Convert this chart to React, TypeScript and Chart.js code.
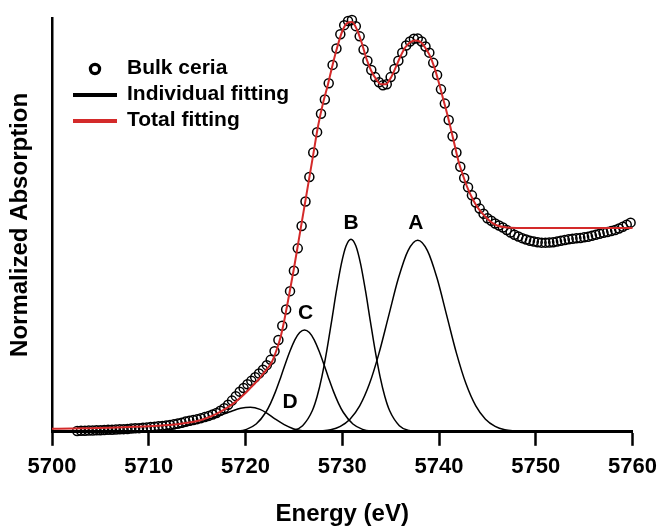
import React, { useEffect, useRef } from 'react';
import { Chart, registerables } from 'chart.js';

Chart.register(...registerables);

const FONT = "'Liberation Sans', Arial, Helvetica, sans-serif";

const xTicks = [5700, 5710, 5720, 5730, 5740, 5750, 5760];

// Experimental data: Bulk ceria (circles)
const bulkEnergy = [
  5702.6, 5703.0, 5703.4, 5703.8, 5704.2, 5704.6, 5705.0, 5705.4, 5705.8, 5706.2,
  5706.6, 5707.0, 5707.4, 5707.8, 5708.2, 5708.6, 5709.0, 5709.4, 5709.8, 5710.2,
  5710.6, 5711.0, 5711.4, 5711.8, 5712.2, 5712.6, 5713.0, 5713.4, 5713.8, 5714.2,
  5714.6, 5715.0, 5715.4, 5715.8, 5716.2, 5716.6, 5717.0, 5717.4, 5717.8, 5718.2,
  5718.6, 5719.0, 5719.4, 5719.8, 5720.2, 5720.6, 5721.0, 5721.4, 5721.8, 5722.2,
  5722.6, 5723.0, 5723.4, 5723.8, 5724.2, 5724.6, 5725.0, 5725.4, 5725.8, 5726.2,
  5726.6, 5727.0, 5727.4, 5727.8, 5728.2, 5728.6, 5729.0, 5729.4, 5729.8, 5730.2,
  5730.6, 5731.0, 5731.4, 5731.8, 5732.2, 5732.6, 5733.0, 5733.4, 5733.8, 5734.2,
  5734.6, 5735.0, 5735.4, 5735.8, 5736.2, 5736.6, 5737.0, 5737.4, 5737.8, 5738.2,
  5738.6, 5739.0, 5739.4, 5739.8, 5740.2, 5740.6, 5741.0, 5741.4, 5741.8, 5742.2,
  5742.6, 5743.0, 5743.4, 5743.8, 5744.2, 5744.6, 5745.0, 5745.4, 5745.8, 5746.2,
  5746.6, 5747.0, 5747.4, 5747.8, 5748.2, 5748.6, 5749.0, 5749.4, 5749.8, 5750.2,
  5750.6, 5751.0, 5751.4, 5751.8, 5752.2, 5752.6, 5753.0, 5753.4, 5753.8, 5754.2,
  5754.6, 5755.0, 5755.4, 5755.8, 5756.2, 5756.6, 5757.0, 5757.4, 5757.8, 5758.2,
  5758.6, 5759.0, 5759.4, 5759.8,
];
const bulkAbs = [
  0.004, 0.005, 0.005, 0.006, 0.006, 0.007, 0.008, 0.009, 0.010, 0.010,
  0.011, 0.012, 0.013, 0.014, 0.016, 0.017, 0.018, 0.020, 0.021, 0.023,
  0.025, 0.027, 0.029, 0.031, 0.033, 0.037, 0.041, 0.045, 0.050, 0.054,
  0.058, 0.062, 0.067, 0.072, 0.078, 0.085, 0.092, 0.103, 0.116, 0.133,
  0.153, 0.175, 0.197, 0.215, 0.233, 0.250, 0.268, 0.286, 0.305, 0.327,
  0.353, 0.395, 0.45, 0.52, 0.60, 0.69, 0.79, 0.90, 1.01, 1.13,
  1.25, 1.37, 1.47, 1.56, 1.63, 1.71, 1.80, 1.88, 1.95, 1.995,
  2.015, 2.02, 1.99, 1.94, 1.875, 1.82, 1.775, 1.74, 1.715, 1.70,
  1.705, 1.74, 1.78, 1.82, 1.86, 1.895, 1.915, 1.928, 1.93, 1.915,
  1.89, 1.86, 1.81, 1.75, 1.68, 1.61, 1.53, 1.45, 1.37, 1.30,
  1.245, 1.20, 1.16, 1.125, 1.095, 1.07, 1.048, 1.035, 1.022, 1.012,
  1.002, 0.99, 0.978, 0.967, 0.958, 0.95, 0.943, 0.937, 0.933, 0.93,
  0.928, 0.928, 0.929, 0.93, 0.933, 0.937, 0.941, 0.945, 0.947, 0.949,
  0.951, 0.954, 0.957, 0.962, 0.967, 0.972, 0.976, 0.980, 0.985, 0.99,
  0.997, 1.006, 1.016, 1.026,
];

// Total fitting (red)
const totalEnergy = [
  5700, 5702, 5704, 5706, 5708, 5710, 5712, 5713, 5714, 5715, 5716, 5717, 5718, 5719,
  5720, 5720.6, 5721.5, 5722, 5722.7, 5723.2, 5723.6, 5724, 5724.5, 5725, 5725.5,
  5726, 5726.5, 5727, 5727.5, 5728, 5728.5, 5729, 5729.5, 5730, 5730.5, 5731, 5731.5,
  5732, 5732.5, 5733, 5733.5, 5734, 5734.5, 5735, 5735.5, 5736, 5736.5, 5737, 5737.5,
  5738, 5738.5, 5739, 5739.5, 5740, 5740.5, 5741, 5741.5, 5742, 5742.5, 5743, 5743.5,
  5744, 5744.5, 5745, 5745.5, 5746, 5747, 5748, 5750, 5755, 5760,
];
const totalAbs = [
  0.015, 0.016, 0.018, 0.020, 0.023, 0.027, 0.033, 0.037, 0.044, 0.053, 0.068, 0.088, 0.115, 0.148,
  0.19, 0.22, 0.265, 0.295, 0.34, 0.40, 0.46, 0.545, 0.67, 0.80, 0.94,
  1.08, 1.22, 1.36, 1.50, 1.61, 1.70, 1.80, 1.89, 1.965, 2.005, 2.01, 1.975,
  1.91, 1.83, 1.77, 1.73, 1.705, 1.705, 1.735, 1.785, 1.84, 1.885, 1.91, 1.92,
  1.915, 1.89, 1.85, 1.79, 1.71, 1.62, 1.53, 1.43, 1.33, 1.255, 1.19, 1.14,
  1.10, 1.07, 1.045, 1.025, 1.012, 1.002, 1.0, 1.0, 1.0, 1.0,
];

// Individual fitting peaks (black)
const peakAEnergy = [
  5726.8, 5727.8, 5728.8, 5729.8, 5730.8, 5731.8, 5732.8, 5733.8, 5734.8, 5735.8, 5736.8, 5737.8,
  5738.8, 5739.8, 5740.8, 5741.8, 5742.8, 5743.8, 5744.8, 5745.8, 5746.8, 5747.8, 5748.8,
];
const peakAAbs = [
  0.001, 0.004, 0.010, 0.027, 0.062, 0.127, 0.234, 0.386, 0.570, 0.753, 0.889, 0.940,
  0.889, 0.753, 0.570, 0.386, 0.234, 0.127, 0.062, 0.027, 0.010, 0.004, 0.001,
];
const peakBEnergy = [
  5723.9, 5724.9, 5725.9, 5726.9, 5727.4, 5727.9, 5728.4, 5728.9, 5729.4, 5729.9, 5730.4, 5730.9,
  5731.4, 5731.9, 5732.4, 5732.9, 5733.4, 5733.9, 5734.4, 5734.9, 5735.9, 5736.9, 5737.9,
];
const peakBAbs = [
  0.001, 0.006, 0.030, 0.103, 0.173, 0.272, 0.398, 0.543, 0.692, 0.823, 0.913, 0.945,
  0.913, 0.823, 0.692, 0.543, 0.398, 0.272, 0.173, 0.103, 0.030, 0.006, 0.001,
];
const peakCEnergy = [
  5718.1, 5719.1, 5720.1, 5721.1, 5722.1, 5722.6, 5723.1, 5723.6, 5724.1, 5724.6, 5725.1, 5725.6, 5726.1,
  5726.6, 5727.1, 5727.6, 5728.1, 5728.6, 5729.1, 5729.6, 5730.1, 5731.1, 5732.1, 5733.1, 5734.1,
];
const peakCAbs = [
  0.001, 0.003, 0.012, 0.038, 0.096, 0.141, 0.197, 0.262, 0.331, 0.396, 0.451, 0.487, 0.500,
  0.487, 0.451, 0.396, 0.331, 0.262, 0.197, 0.141, 0.096, 0.038, 0.012, 0.003, 0.001,
];
const peakDEnergy = [
  5710, 5712, 5714, 5715.5, 5717, 5718.5, 5719.5, 5720.5, 5721.5, 5722.2, 5723, 5724, 5725, 5726, 5727,
];
const peakDAbs = [
  0.002, 0.010, 0.030, 0.050, 0.075, 0.100, 0.115, 0.120, 0.110, 0.092, 0.065, 0.035, 0.014, 0.004, 0.0,
];

const peakLabels = ['A', 'B', 'C', 'D'];
const peakLabelEnergy = [5737.6, 5730.9, 5726.2, 5724.6];
const peakLabelAbs = [1.025, 1.025, 0.58, 0.147];

const legendLabels = ['Bulk ceria', 'Individual fitting', 'Total fitting'];

const RED = '#d42a2a';

function pts(xs: number[], ys: number[]) {
  return xs.map((x, i) => ({ x, y: ys[i] }));
}

const overlayPlugin = {
  id: 'overlayText',
  afterDatasetsDraw(chart: any) {
    const { ctx, chartArea, scales } = chart;
    ctx.save();
    ctx.fillStyle = '#000';
    ctx.textAlign = 'center';
    ctx.textBaseline = 'middle';
    ctx.font = `bold 21px ${FONT}`;
    peakLabels.forEach((t, i) => {
      ctx.fillText(t, scales.x.getPixelForValue(peakLabelEnergy[i]), scales.y.getPixelForValue(peakLabelAbs[i]));
    });

    // legend
    const L = chartArea.left;
    const T = chartArea.top;
    const rows = [T + 50, T + 76, T + 102];
    ctx.beginPath();
    ctx.lineWidth = 3.2;
    ctx.strokeStyle = '#000';
    ctx.arc(L + 43, rows[0] + 1, 4.6, 0, Math.PI * 2);
    ctx.stroke();
    ctx.beginPath();
    ctx.lineWidth = 4;
    ctx.moveTo(L + 21, rows[1] + 1);
    ctx.lineTo(L + 65, rows[1] + 1);
    ctx.stroke();
    ctx.beginPath();
    ctx.strokeStyle = RED;
    ctx.moveTo(L + 21, rows[2] + 1);
    ctx.lineTo(L + 65, rows[2] + 1);
    ctx.stroke();

    ctx.textAlign = 'left';
    ctx.font = `bold 21px ${FONT}`;
    legendLabels.forEach((t, i) => ctx.fillText(t, L + 75, rows[i]));
    ctx.restore();
  },
};

export default function App() {
  const ref = useRef<HTMLCanvasElement | null>(null);

  useEffect(() => {
    if (!ref.current) return;
    const lineBase = {
      type: 'line' as const,
      showLine: true,
      pointRadius: 0,
      fill: false,
      cubicInterpolationMode: 'monotone' as const,
      clip: false as const,
    };
    const chart = new Chart(ref.current, {
      type: 'line',
      data: {
        datasets: [
          {
            ...lineBase,
            label: 'Total fitting',
            data: pts(totalEnergy, totalAbs),
            borderColor: RED,
            borderWidth: 2,
            order: 0,
          },
          {
            type: 'line',
            label: 'Bulk ceria',
            data: pts(bulkEnergy, bulkAbs),
            showLine: false,
            pointRadius: 4.5,
            pointStyle: 'circle',
            pointBorderWidth: 1.5,
            pointBorderColor: '#000',
            pointBackgroundColor: 'rgba(0,0,0,0)',
            borderColor: '#000',
            clip: false,
            order: 1,
          },
          { ...lineBase, label: 'A', data: pts(peakAEnergy, peakAAbs), borderColor: '#000', borderWidth: 1.5, order: 2 },
          { ...lineBase, label: 'B', data: pts(peakBEnergy, peakBAbs), borderColor: '#000', borderWidth: 1.5, order: 3 },
          { ...lineBase, label: 'C', data: pts(peakCEnergy, peakCAbs), borderColor: '#000', borderWidth: 1.5, order: 4 },
          { ...lineBase, label: 'D', data: pts(peakDEnergy, peakDAbs), borderColor: '#000', borderWidth: 1.5, order: 5 },
        ] as any,
      },
      options: {
        animation: false,
        responsive: false,
        maintainAspectRatio: false,
        layout: { padding: { left: 0, right: 28, top: 18, bottom: 0 } },
        plugins: {
          legend: { display: false },
          tooltip: { enabled: false },
        },
        scales: {
          x: {
            type: 'linear',
            min: 5700,
            max: 5760,
            afterBuildTicks: (axis: any) => {
              axis.ticks = xTicks.map((v) => ({ value: v }));
            },
            ticks: {
              color: '#000',
              font: { family: FONT, size: 22, weight: 'bold' },
              padding: 8,
              maxRotation: 0,
              callback: (v: any) => String(v),
            },
            grid: {
              display: true,
              drawOnChartArea: false,
              drawTicks: true,
              tickLength: 14,
              tickWidth: 2.5,
              tickColor: '#000',
            },
            border: { display: true, color: '#000', width: 3 },
            title: {
              display: true,
              text: 'Energy (eV)',
              color: '#000',
              font: { family: FONT, size: 24, weight: 'bold' },
              padding: { top: 12, bottom: 0 },
            },
          },
          y: {
            type: 'linear',
            min: 0,
            max: 2.03,
            ticks: { display: false },
            grid: { display: false, drawTicks: false },
            border: { display: true, color: '#000', width: 2.5 },
            title: {
              display: true,
              text: 'Normalized Absorption',
              color: '#000',
              font: { family: FONT, size: 24, weight: 'bold' },
              padding: { top: 6, bottom: 17.2 },
            },
          },
        },
      } as any,
      plugins: [overlayPlugin],
    });
    return () => chart.destroy();
  }, []);

  return (
    <div style={{ position: 'absolute', left: 0, top: 0, width: 665, height: 529, background: '#fff' }}>
      <canvas ref={ref} width={665} height={529} />
    </div>
  );
}
